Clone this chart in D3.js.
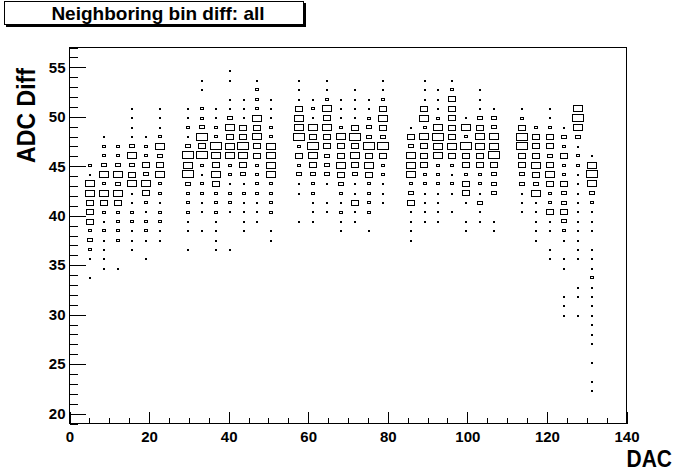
<!DOCTYPE html>
<html>
<head>
<meta charset="utf-8">
<script src="https://cdnjs.cloudflare.com/ajax/libs/d3/7.8.5/d3.min.js"></script>
<style>
  body { margin:0; background:#fff; }
  svg text { font-family: "Liberation Sans", Arial, Helvetica, sans-serif; font-weight:bold; }
</style>
</head>
<body>
<svg id="chart" width="696" height="472"></svg>
<script>
// histogram binning: DAC 40 bins 0..140, ADC diff 40 bins 19..57
var dacRange = [0, 140], dacBinW = 3.5;
var adcRange = [19, 57], adcBinW = 0.95;

// filled DAC bins (index), first ADC bin of each column, and counts upward from it
var dacBin = [1,2,3,4,5,6, 8,9,10,11,12,13,14, 16,17,18,19,20,21,22, 24,25,26,27,28,29,30, 32,33,34,35,36,37];
var firstAdcBin = [15,16,16,18,17,19, 18,20,18,18,20,21,19, 21,21,22,20,21,20,23, 19,21,21,22,20,21,20, 22,19,17,11,11,3];
var binCounts = [
  [1,0,1,2,3,2,4,4,4,5,5,1,2],
  [1,1,1,1,2,1,2,4,5,2,5,3,2,2,1],
  [1,0,0,2,2,2,2,4,5,3,5,3,2,2],
  [1,1,1,2,2,1,1,5,4,3,5,3,1,1,1,1],
  [1,0,1,2,2,1,2,4,5,3,4,2,2,1],
  [1,1,2,2,1,2,2,5,4,3,5,2,1,1,1],
  [1,0,1,1,2,2,2,3,6,5,6,3,1,2,1,1],
  [1,0,1,1,2,2,1,2,6,4,6,3,2,2,0,1,1],
  [1,1,1,1,2,2,2,4,5,4,5,6,2,2,1,1],
  [1,0,0,0,1,2,2,1,2,2,5,5,4,5,3,1,1,0,1,1],
  [1,1,1,1,2,1,3,4,5,6,4,4,1,1,1],
  [1,1,1,2,2,2,2,4,4,5,4,5,2,2,2,1],
  [1,1,0,2,2,2,2,5,5,5,5,2,2,1,1,1],
  [1,0,0,1,1,3,2,4,2,6,5,5,4,1,1,1],
  [1,1,1,2,2,3,4,5,6,4,5,1,2,1],
  [1,1,0,1,3,3,3,4,4,5,4,5,2,1,1],
  [1,1,2,1,2,3,4,5,4,4,5,2,1,1,1],
  [1,1,4,1,1,3,4,5,4,6,4,1,1,1,1],
  [1,0,2,2,2,2,4,5,4,6,3,3,2,1,1],
  [1,1,1,2,2,4,6,3,4,5,4,2,1,1],
  [1,1,1,1,4,3,2,5,5,5,3,4,1],
  [1,1,1,1,2,2,4,4,4,5,2,5,4,1,1,1],
  [1,1,1,1,2,2,2,5,5,6,5,2,1,1,1],
  [1,0,1,2,1,2,4,5,4,4,4,4,4,2,1],
  [1,1,0,1,4,4,2,4,4,6,2,5,1],
  [1,1,3,1,2,2,4,4,5,5,4,3,1,1,1],
  [1,1,0,0,3,3,3,4,6,5,5,3,3,1],
  [1,1,1,3,3,4,4,6,6,4,2,1],
  [1,1,1,1,1,5,3,4,5,4,4,4,2],
  [1,1,0,1,1,4,2,2,4,5,4,3,4,4,2,1,1],
  [1,1,1,0,0,1,1,0,1,2,3,4,3,3,4,2,2,4,2,3,1],
  [1,0,1,1,0,0,1,1,1,1,1,1,1,1,1,1,2,2,1,3,5,6,5],
  [1,1,0,1,0,1,1,1,1,1,1,1,2,1,1,1,0,1,1,1,2,3,5,6,5,1]
];

var xMajor = d3.range(0, 141, 20), xMinor = d3.range(0, 141, 5);
var yMajor = d3.range(20, 56, 5), yMinor = d3.range(19, 58, 1);

var titleText = "Neighboring bin diff: all";
var xTitle = "DAC", yTitle = "ADC Diff";

(function(){
  // flatten into cells
  var cells = [];
  dacBin.forEach(function(ib, k){
    binCounts[k].forEach(function(c, n){
      if(c > 0) cells.push({dac: dacRange[0] + dacBinW*(ib+0.5), adc: adcRange[0] + adcBinW*(firstAdcBin[k]+n+0.5), count: c});
    });
  });

  var svg = d3.select('#chart');
  var fl = 69.5, fr = 626.5, ft = 47.5, fb = 423.5;

  var x = d3.scaleLinear().domain(dacRange).range([fl, fr]);
  var y = d3.scaleLinear().domain(adcRange).range([fb, ft]);
  var boxFrac = d3.scaleLinear().domain([0, 6.8]).range([0, 1]);

  var binPxW = x(dacBinW) - x(0), binPxH = y(adcRange[0]) - y(adcRange[0]+adcBinW);

  // boxes
  svg.append('g').attr('shape-rendering','crispEdges').selectAll('rect').data(cells).enter().append('rect')
    .attr('x', function(d){ var w = boxFrac(d.count)*binPxW; return Math.round(x(d.dac) - w/2) + 0.5; })
    .attr('y', function(d){ var h = boxFrac(d.count)*binPxH; return Math.round(y(d.adc) - h/2) + 0.5; })
    .attr('width', function(d){ return Math.max(Math.round(boxFrac(d.count)*binPxW) - 1, 1); })
    .attr('height', function(d){ return Math.max(Math.round(boxFrac(d.count)*binPxH) - 1, 1); })
    .attr('fill','none').attr('stroke','black').attr('stroke-width',1);

  // axes (ticks inside the frame, ROOT style)
  var gy = svg.append('g').attr('transform','translate(' + fl + ',0)').attr('shape-rendering','crispEdges');
  gy.append('g').call(d3.axisLeft(y).tickValues(yMinor).tickSize(-8).tickSizeOuter(0).tickFormat(''));
  gy.append('g').call(d3.axisLeft(y).tickValues(yMajor).tickSize(-16.7).tickSizeOuter(0).tickPadding(4));
  var gx = svg.append('g').attr('transform','translate(0,' + fb + ')').attr('shape-rendering','crispEdges');
  gx.append('g').call(d3.axisBottom(x).tickValues(xMinor).tickSize(-5.6).tickSizeOuter(0).tickFormat(''));
  gx.append('g').call(d3.axisBottom(x).tickValues(xMajor).tickSize(-11.3).tickSizeOuter(0).tickPadding(8));
  svg.selectAll('.domain').remove();
  svg.selectAll('.tick line').attr('stroke','black');
  svg.selectAll('.tick text').attr('fill','black').attr('font-size',15).attr('font-family','"Liberation Sans", Arial, sans-serif').attr('font-weight','bold');

  // frame
  svg.append('rect').attr('x',fl).attr('y',ft).attr('width',fr-fl).attr('height',fb-ft)
    .attr('fill','none').attr('stroke','black').attr('shape-rendering','crispEdges');

  // axis titles (ROOT's font is taller than Liberation, so stretch a bit)
  svg.append('text').attr('transform','translate(672,467) scale(1,1.18)').attr('text-anchor','end').attr('font-size',21).text(xTitle);
  svg.append('text').attr('transform','translate(35,68) rotate(-90) scale(1.1,1.25)').attr('text-anchor','end').attr('font-size',21).text(yTitle);

  // title pave with shadow
  var tb = svg.append('g').attr('shape-rendering','crispEdges');
  tb.append('rect').attr('x',6).attr('y',3).attr('width',300).attr('height',24).attr('fill','black');
  tb.append('rect').attr('x',4.5).attr('y',1.5).attr('width',299).attr('height',23).attr('fill','white').attr('stroke','black');
  svg.append('text').attr('x',158).attr('y',19.5).attr('text-anchor','middle').attr('font-size',19).text(titleText);
})();
</script>
</body>
</html>
